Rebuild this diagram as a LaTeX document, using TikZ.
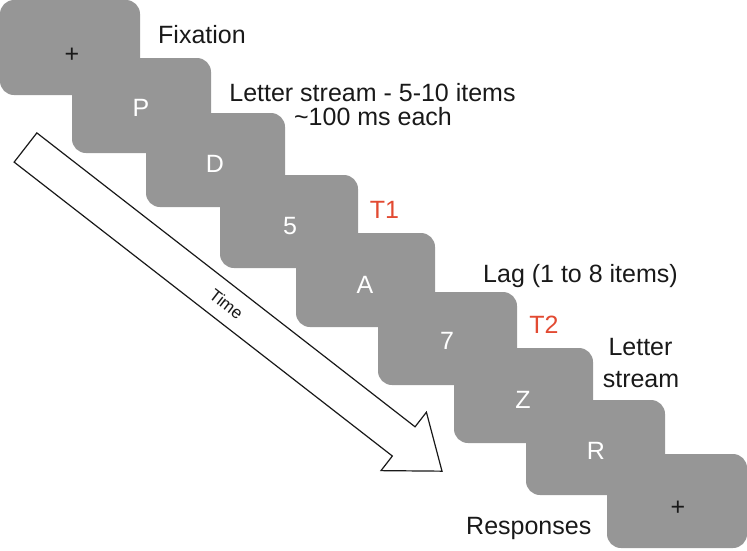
\documentclass[tikz,border=0pt]{standalone}
\usepackage{fontspec}
\setmainfont{Liberation Sans}
\definecolor{boxgray}{RGB}{150,150,150}
\definecolor{tred}{RGB}{226,74,50}
\definecolor{ink}{RGB}{25,25,25}
\begin{document}
\begin{tikzpicture}[x=1pt,y=-1pt,
  card/.style={fill=boxgray, rounded corners=14pt},
  inbox/.style={font=\fontsize{25}{28}\selectfont, inner sep=0pt, text=white},
  fixmark/.style={font=\fontsize{25}{28}\selectfont, inner sep=0pt, text=ink},
  lab/.style={font=\fontsize{25}{28}\selectfont, inner sep=0pt, text=ink},
  redlab/.style={font=\fontsize{25}{28}\selectfont, inner sep=0pt, text=tred},
  timearrow/.style={draw=ink, line width=1.2pt, fill=white, line join=miter}]
\useasboundingbox (0,0) rectangle (747,550);

% time arrow
\begin{scope}[shift={(25.5,147.5)}, rotate=-37.85]
  \draw[timearrow] (0,-18.5) -- (479,-18.5) -- (479,-37) -- (527.5,0) -- (479,37) -- (479,18.5) -- (0,18.5) -- cycle;
  \node[rotate=-37.85, font=\fontsize{17}{20}\selectfont, text=ink, inner sep=0pt] (time) at (254.5,0) {Time};
\end{scope}

% stimulus frames
\fill[card] (0,0) rectangle (140,95);
\fill[card] (72,58) rectangle (211,153);
\fill[card] (146,113) rectangle (285,207);
\fill[card] (220,175) rectangle (358,268);
\fill[card] (296,233) rectangle (435,327);
\fill[card] (378,292) rectangle (517,385);
\fill[card] (454,348) rectangle (593,443);
\fill[card] (526,400) rectangle (665,495);
\fill[card] (607,454) rectangle (747,548);

% frame contents
\node[fixmark] (f1) at (72,55) {+};
\node[inbox] (f2) at (141,108) {P};
\node[inbox] (f3) at (215,164) {D};
\node[inbox] (f4) at (290,226) {5};
\node[inbox] (f5) at (365,285) {A};
\node[inbox] (f6) at (447,341) {7};
\node[inbox] (f7) at (523,400) {Z};
\node[inbox] (f8) at (596,451) {R};
\node[fixmark] (f9) at (678,508) {+};

% labels
\node[lab, anchor=base west] (fix) at (158,43) {Fixation};
\node[lab, anchor=base] (ls1) at (372.5,101) {Letter stream - 5-10 items};
\node[lab, anchor=base] (ls2) at (373,125) {\textasciitilde 100 ms each};
\node[redlab, anchor=base] (t1) at (384.5,218) {T1};
\node[lab, anchor=base west] (lag) at (483,282) {Lag (1 to 8 items)};
\node[redlab, anchor=base] (t2) at (544,333) {T2};
\node[lab, anchor=base] (ls3) at (640.5,355) {Letter};
\node[lab, anchor=base] (ls4) at (641,387) {stream};
\node[lab, anchor=base west] (resp) at (466,534) {Responses};
\end{tikzpicture}
\end{document}
